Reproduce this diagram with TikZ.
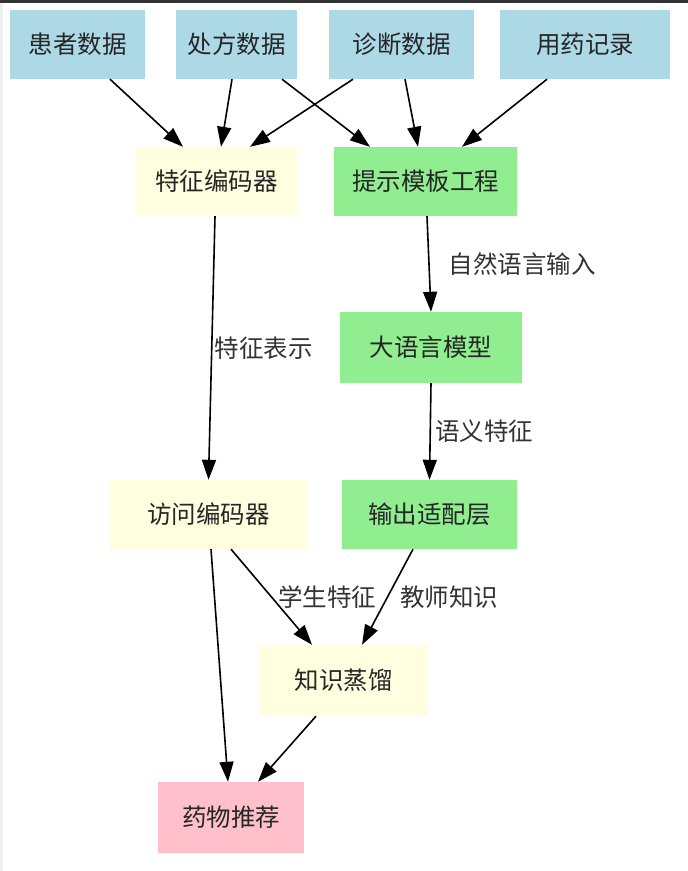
\documentclass[tikz,border=0pt]{standalone}
\usepackage{fontspec}
\setmainfont{Noto Sans CJK SC}
\usepackage{tikz}
\usetikzlibrary{arrows.meta}
\definecolor{dataBlue}{HTML}{ADD8E6}
\definecolor{encYellow}{HTML}{FFFFE0}
\definecolor{llmGreen}{HTML}{90EE90}
\definecolor{outPink}{HTML}{FFC0CB}
\tikzset{
    box/.style={inner sep=0pt, font=\fontsize{24.5pt}{28pt}\selectfont, text=black!85},
    data/.style={box, fill=dataBlue},
    enc/.style={box, fill=encYellow},
    llm/.style={box, fill=llmGreen},
    rec/.style={box, fill=outPink},
    flow/.style={-{Triangle[length=20pt,width=14pt]}, line width=1.6pt},
    lbl/.style={font=\fontsize{24.5pt}{28pt}\selectfont, text=black!80, inner sep=0pt}
}

\begin{document}
\begin{tikzpicture}[x=1pt, y=-1pt]
    \useasboundingbox (0,0) rectangle (688,871);
    \fill[white] (0,0) rectangle (688,871);
    \fill[black!6] (0,0) rectangle (3,871);
    \fill[black!80] (0,0) rectangle (688,3);
    % input data
    \node[data, minimum width=135pt, minimum height=69pt] (hz) at (77.5,44.5) {患者数据};
    \node[data, minimum width=121pt, minimum height=69pt] (cf) at (236.5,44.5) {处方数据};
    \node[data, minimum width=145pt, minimum height=69pt] (zd) at (401.5,44.5) {诊断数据};
    \node[data, minimum width=170pt, minimum height=69pt] (yy) at (585,44.5) {用药记录};
    % encoders and llm branch
    \node[enc, minimum width=161pt, minimum height=69pt] (tz) at (216.5,181.5) {特征编码器};
    \node[llm, minimum width=183pt, minimum height=69pt] (ts) at (425.5,181.5) {提示模板工程};
    \node[llm, minimum width=182pt, minimum height=71pt] (dy) at (431,347.5) {大语言模型};
    \node[enc, minimum width=199pt, minimum height=69pt] (fw) at (208.5,514.5) {访问编码器};
    \node[llm, minimum width=175pt, minimum height=69pt] (sc) at (429.5,514.5) {输出适配层};
    \node[enc, minimum width=169pt, minimum height=71pt] (zs) at (343.5,680.5) {知识蒸馏};
    \node[rec, minimum width=146pt, minimum height=71pt] (yw) at (231,817.5) {药物推荐};

    \draw[flow] ([xshift=32.5pt]hz.south) -- ([xshift=-33.5pt]tz.north);
    \draw[flow] ([xshift=-4.5pt]cf.south) -- ([xshift=4.5pt]tz.north);
    \draw[flow] ([xshift=45.5pt]cf.south) -- ([xshift=-55.5pt]ts.north);
    \draw[flow] ([xshift=-48.5pt]zd.south) -- ([xshift=33.5pt]tz.north);
    \draw[flow] ([xshift=3.5pt]zd.south) -- ([xshift=-7.5pt]ts.north);
    \draw[flow] ([xshift=-38pt]yy.south) -- ([xshift=36.5pt]ts.north);

    \draw[flow] ([xshift=-1.5pt]tz.south) -- node[lbl, right=2pt, pos=0.5] (l1) {特征表示} (fw.north);
    \draw[flow] ([xshift=1.5pt]ts.south) -- node[lbl, right=19pt, pos=0.5] (l2) {自然语言输入} (dy.north);
    \draw[flow] (dy.south) -- node[lbl, right=4pt, pos=0.5] (l3) {语义特征} (sc.north);

    \draw[flow] ([xshift=22.5pt]fw.south) -- node[lbl, right=6pt, pos=0.5] (l4) {学生特征} ([xshift=-31.5pt]zs.north);
    \draw[flow] ([xshift=2.5pt]fw.south) -- ([xshift=-3pt]yw.north);
    \draw[flow] ([xshift=-16.5pt]sc.south) -- node[lbl, right=12pt, pos=0.5] (l5) {教师知识} ([xshift=18.5pt]zs.north);
    \draw[flow] ([xshift=-27.5pt]zs.south) -- ([xshift=27pt]yw.north);
\end{tikzpicture}
\end{document}
